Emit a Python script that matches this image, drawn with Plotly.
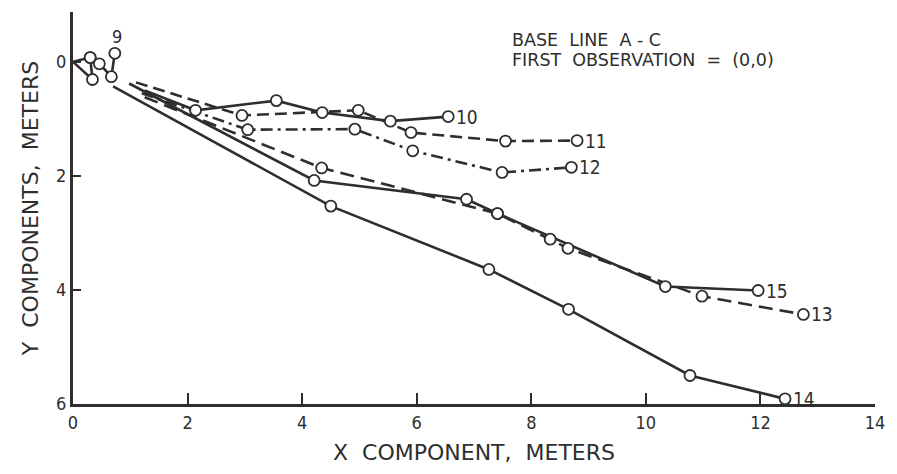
import plotly.graph_objects as go

# ---- data (meters) ----
s9_x = [0.30, 0.0, 0.34, 0.30, 0.46, 0.67, 0.73]
s9_y = [-0.075, 0.0, 0.31, -0.075, 0.035, 0.26, -0.15]
s9_m = [1, 0, 1, 1, 1, 1, 1]

s10_x = [1.25, 2.14, 3.55, 4.35, 5.54, 6.55]
s10_y = [0.50, 0.85, 0.68, 0.89, 1.04, 0.96]
s11_x = [1.10, 2.95, 4.98, 5.90, 7.55, 8.80]
s11_y = [0.36, 0.94, 0.85, 1.24, 1.39, 1.38]
s12_x = [1.20, 3.05, 4.92, 5.93, 7.49, 8.70]
s12_y = [0.55, 1.19, 1.18, 1.56, 1.94, 1.85]
s13_x = [1.25, 4.34, 7.41, 8.33, 8.64, 10.98, 12.75]
s13_y = [0.62, 1.86, 2.66, 3.11, 3.27, 4.11, 4.43]
s14_x = [0.70, 4.50, 7.26, 8.65, 10.77, 12.43]
s14_y = [0.43, 2.53, 3.64, 4.34, 5.50, 5.91]
s15_x = [0.98, 4.21, 6.87, 7.41, 10.34, 11.96]
s15_y = [0.38, 2.08, 2.41, 2.66, 3.94, 4.01]

x_ticks = [0, 2, 4, 6, 8, 10, 12, 14]
y_ticks = [0, 2, 4, 6]

INK = "#2e2e2e"
FONT = "DejaVu Sans Condensed, Liberation Sans Narrow, DejaVu Sans, sans-serif"
WFONT = "DejaVu Sans, sans-serif"
MS = 11
LW = 2.6

series = [
    ("9", s9_x, s9_y, "solid", s9_m, False),
    ("10", s10_x, s10_y, "solid", None, True),
    ("11", s11_x, s11_y, "12px,6px", None, True),
    ("12", s12_x, s12_y, "12px,5px,3px,5px", None, True),
    ("13", s13_x, s13_y, "14px,7px", None, True),
    ("14", s14_x, s14_y, "solid", None, True),
    ("15", s15_x, s15_y, "solid", None, True),
]

fig = go.Figure()

# lines first
for name, xs, ys, dash, m, lab in series:
    fig.add_trace(go.Scatter(
        x=xs, y=ys, mode="lines", name=name,
        line=dict(color=INK, width=LW, dash=dash),
        showlegend=False, hoverinfo="skip"))

# then observation circles on top
for name, xs, ys, dash, m, lab in series:
    if m is None:
        m = [0] + [1] * (len(xs) - 1)
    px = [x for x, k in zip(xs, m) if k]
    py = [y for y, k in zip(ys, m) if k]
    fig.add_trace(go.Scatter(
        x=px, y=py, mode="markers", name=name + " obs",
        marker=dict(size=MS, color="white", line=dict(color=INK, width=1.8)),
        showlegend=False, hoverinfo="skip"))
    if lab:
        fig.add_annotation(x=xs[-1], y=ys[-1], text=name, showarrow=False,
                           xanchor="left", yanchor="middle", xshift=6,
                           font=dict(family=FONT, size=19, color=INK))

fig.add_annotation(x=s9_x[-1], y=s9_y[-1], text="9", showarrow=False,
                   xanchor="center", yanchor="bottom", xshift=2, yshift=4,
                   font=dict(family=FONT, size=18, color=INK))

fig.add_annotation(x=7.62, y=-0.38, text="BASE  LINE  A - C", showarrow=False,
                   xanchor="left", yanchor="middle",
                   font=dict(family=WFONT, size=17.5, color=INK))
fig.add_annotation(x=7.62, y=-0.03, text="FIRST  OBSERVATION  =  (0,0)", showarrow=False,
                   xanchor="left", yanchor="middle",
                   font=dict(family=WFONT, size=17.5, color=INK))

fig.update_layout(
    width=897, height=474,
    margin=dict(l=73, r=20, t=12, b=69),
    paper_bgcolor="white", plot_bgcolor="white",
    font=dict(family=FONT, size=16, color=INK),
)

fig.update_xaxes(
    range=[0, 14], tickvals=x_ticks, ticktext=[str(v) for v in x_ticks],
    showgrid=False, zeroline=False, showline=True, linecolor=INK, linewidth=3,
    ticks="inside", ticklen=11, tickwidth=2, tickcolor=INK,
    tickfont=dict(family=FONT, size=18, color=INK),
    title=dict(text="X  COMPONENT,  METERS", font=dict(family=WFONT, size=22, color=INK), standoff=14),
)
fig.update_yaxes(
    range=[6, -0.874], tickvals=y_ticks, ticktext=[str(v) for v in y_ticks],
    showgrid=False, zeroline=False, showline=True, linecolor=INK, linewidth=3,
    ticks="inside", ticklen=8, tickwidth=2, tickcolor=INK,
    tickfont=dict(family=FONT, size=18, color=INK),
    title=dict(text="Y  COMPONENTS,  METERS", font=dict(family=WFONT, size=22, color=INK), standoff=12),
)

fig.write_html("out.html")
